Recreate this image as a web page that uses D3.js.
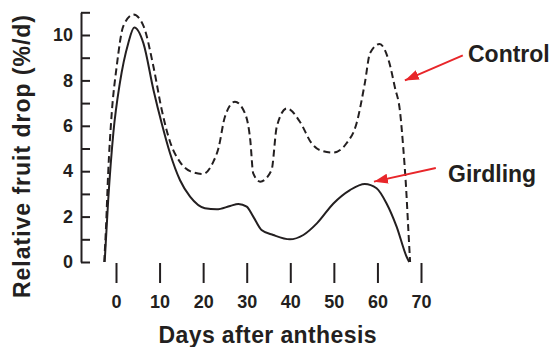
<!DOCTYPE html>
<html>
<head>
<meta charset="utf-8">
<script src="https://cdn.jsdelivr.net/npm/d3@7"></script>
<style>
  html, body { margin: 0; padding: 0; background: #fff; }
  svg { display: block; }
  text { font-family: "Liberation Sans", Arial, Helvetica, sans-serif; font-weight: bold; fill: #231f20; }
</style>
</head>
<body>
<svg id="chart" width="554" height="347"></svg>
<script>
// ---- Data ----
const controlDays   = [-2.7,-2.3,-1.8,-1.0,0.15,1.7,4.0,6.3,8.6,10.5,12.4,14.7,17.0,20.0,22.3,23.5,25.0,27.3,29.6,30.8,31.5,33.1,35.7,36.9,39.2,42.2,44.9,46.8,49.9,52.9,55.2,57.1,58.3,60.5,62.7,64.0,65.2,65.9,66.6,67.1,67.5];
const controlValues = [0,1.5,3.9,6.5,8.6,10.4,10.9,10.4,8.6,6.7,5.3,4.4,4.0,3.88,4.4,5.0,6.4,7.06,6.55,5.4,3.9,3.54,4.05,5.96,6.77,6.18,5.23,4.93,4.82,5.23,6.1,7.87,9.2,9.6,8.8,7.7,6.6,5.1,3.2,1.4,0];
const girdlingDays   = [-2.6,-1.8,-0.6,0.9,2.8,4.2,6.3,8.6,10.5,12.4,14.7,17.0,20.4,23.1,26.2,28.1,30.0,31.5,33.4,36.1,39.9,43.0,46.1,49.9,53.7,57.1,59.8,62.1,64.4,66.7,67.3];
const girdlingValues = [0,2.7,5.7,7.9,9.63,10.33,9.63,7.58,6.1,4.79,3.6,2.88,2.37,2.32,2.47,2.56,2.44,2.0,1.41,1.19,1.0,1.19,1.7,2.58,3.17,3.44,3.25,2.58,1.56,0.23,0];
const xTicks = [0,10,20,30,40,50,60,70];
const yTicks = [0,1,2,3,4,5,6,7,8,9,10,11];
const seriesNames = ["Control","Girdling"];
const xTitle = "Days after anthesis";
const yTitle = "Relative fruit drop (%/d)";
// annotation arrows in data coordinates: [fromDay, fromValue, toDay, toValue]
const controlArrow  = [79.6, 9.1, 66.3, 8.0];
const girdlingArrow = [73.4, 4.14, 59.2, 3.54];

// ---- Chart ----
const svg = d3.select("#chart");
const x = d3.scaleLinear().domain([0, 70]).range([116, 421]);
const y = d3.scaleLinear().domain([0, 11]).range([262, 262 - 11 * 22.7]);

// Y axis
const yAxis = d3.axisLeft(y)
  .tickValues(yTicks)
  .tickSizeInner(-9)
  .tickSizeOuter(0)
  .tickPadding(8)
  .tickFormat(d => d % 2 === 0 ? d : "");
const gy = svg.append("g").attr("transform", "translate(81,0)").call(yAxis);
gy.select(".domain").attr("stroke", "#231f20").attr("stroke-width", 2);
gy.selectAll(".tick line").attr("stroke", "#231f20").attr("stroke-width", 2);
gy.selectAll(".tick text").style("font-size", "18px").attr("fill", "#231f20").style("font-family", "'Liberation Sans', Arial, sans-serif").style("font-weight", "bold");

// X axis (ticks only)
const xAxis = d3.axisBottom(x)
  .tickValues(xTicks)
  .tickSizeInner(20)
  .tickSizeOuter(0)
  .tickPadding(12);
const gx = svg.append("g").attr("transform", "translate(0,263)").call(xAxis);
gx.select(".domain").remove();
gx.selectAll(".tick line").attr("stroke", "#231f20").attr("stroke-width", 2);
gx.selectAll(".tick text").style("font-size", "18px").attr("fill", "#231f20").style("font-family", "'Liberation Sans', Arial, sans-serif").style("font-weight", "bold");

// Lines
const line = d3.line().x(d => x(d[0])).y(d => y(d[1])).curve(d3.curveMonotoneX);
const controlData = controlDays.map((d, i) => [d, controlValues[i]]);
const girdlingData = girdlingDays.map((d, i) => [d, girdlingValues[i]]);

svg.append("path").datum(controlData)
  .attr("d", line).attr("fill", "none")
  .attr("stroke", "#231f20").attr("stroke-width", 2)
  .attr("stroke-dasharray", "7,4");

svg.append("path").datum(girdlingData)
  .attr("d", line).attr("fill", "none")
  .attr("stroke", "#231f20").attr("stroke-width", 2);

// Arrow marker
svg.append("defs").append("marker")
  .attr("id", "arrow")
  .attr("viewBox", "0 0 14 10")
  .attr("refX", 14).attr("refY", 5)
  .attr("markerWidth", 14).attr("markerHeight", 10)
  .attr("markerUnits", "userSpaceOnUse")
  .attr("orient", "auto")
  .append("path").attr("d", "M0,0 L14,5 L0,10 Z").attr("fill", "#e8262a");

[controlArrow, girdlingArrow].forEach(a => {
  svg.append("line")
    .attr("x1", x(a[0])).attr("y1", y(a[1]))
    .attr("x2", x(a[2])).attr("y2", y(a[3]))
    .attr("stroke", "#e8262a").attr("stroke-width", 2)
    .attr("marker-end", "url(#arrow)");
});

// Series labels
svg.append("text").attr("x", 468).attr("y", 62).style("font-size", "23px").text(seriesNames[0]);
svg.append("text").attr("x", 448).attr("y", 182).style("font-size", "23px").text(seriesNames[1]);

// Axis titles
svg.append("text").attr("x", 267.5).attr("y", 343).attr("text-anchor", "middle")
  .attr("textLength", 218).style("font-size", "23px").text(xTitle);
svg.append("text").attr("transform", "translate(30,156.5) rotate(-90)").attr("text-anchor", "middle")
  .attr("textLength", 283).style("font-size", "23px").text(yTitle);
</script>
</body>
</html>
